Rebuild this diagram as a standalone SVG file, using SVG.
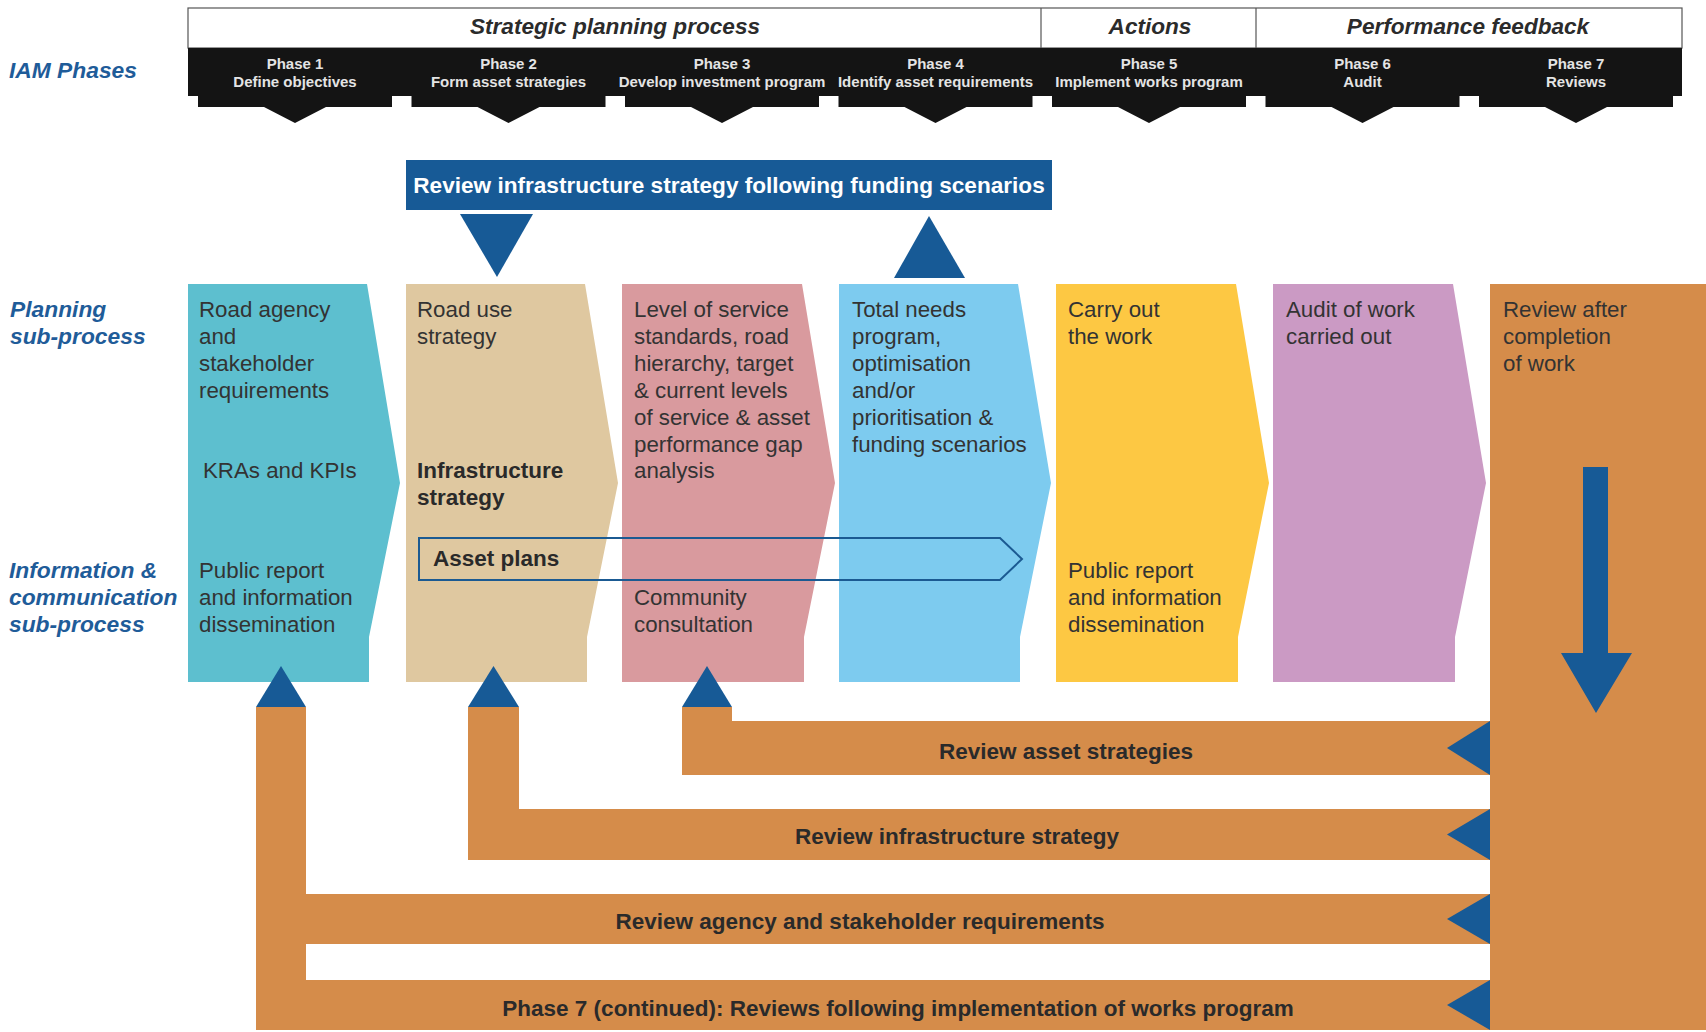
<svg xmlns="http://www.w3.org/2000/svg" width="1706" height="1032" viewBox="0 0 1706 1032">
<defs>
<style>
.hdr{font-family:"Liberation Sans",Arial,sans-serif;font-size:22.6px;font-style:italic;font-weight:bold;fill:#2b2b2b;text-anchor:middle}
.ph{font-family:"Liberation Sans",Arial,sans-serif;font-size:15px;font-weight:bold;fill:#e4e4e4;text-anchor:middle}
.lbl{font-family:"Liberation Sans",Arial,sans-serif;font-size:22.8px;font-style:italic;font-weight:bold;fill:#1f5c99}
.t{font-family:"Liberation Sans",Arial,sans-serif;font-size:22.3px;fill:#333}
.tb{font-family:"Liberation Sans",Arial,sans-serif;font-size:22.5px;font-weight:bold;fill:#2a2a2a}
.bar{font-family:"Liberation Sans",Arial,sans-serif;font-size:22.5px;font-weight:bold;fill:#2a2a2a;text-anchor:middle}
.rev{font-family:"Liberation Sans",Arial,sans-serif;font-size:22.6px;font-weight:bold;fill:#ffffff;text-anchor:middle}
.blue{fill:#175a96}
.org{fill:#d58c4a}
</style>
</defs>
<rect x="0" y="0" width="1706" height="1032" fill="#ffffff"/>

<!-- Header -->
<g id="header">
<rect x="188" y="8" width="1494" height="40" fill="#ffffff" stroke="#555" stroke-width="1.2"/>
<line x1="1041" y1="8" x2="1041" y2="48" stroke="#555" stroke-width="1.2"/>
<line x1="1256" y1="8" x2="1256" y2="48" stroke="#555" stroke-width="1.2"/>
<text class="hdr" x="615" y="34">Strategic planning process</text>
<text class="hdr" x="1150" y="34">Actions</text>
<text class="hdr" x="1468" y="34">Performance feedback</text>
</g>

<!-- Phase band -->
<g id="phases">
<rect x="188" y="48" width="1494" height="48" fill="#141414"/>
<path fill="#141414" d="M198,96H392V107H326L295,123L264,107H198Z"/>
<path fill="#141414" d="M411.5,96H605.5V107H539.5L508.5,123L477.5,107H411.5Z"/>
<path fill="#141414" d="M625,96H819V107H753L722,123L691,107H625Z"/>
<path fill="#141414" d="M838.5,96H1032.5V107H966.5L935.5,123L904.5,107H838.5Z"/>
<path fill="#141414" d="M1052,96H1246V107H1180L1149,123L1118,107H1052Z"/>
<path fill="#141414" d="M1265.5,96H1459.5V107H1393.5L1362.5,123L1331.5,107H1265.5Z"/>
<path fill="#141414" d="M1479,96H1673V107H1607L1576,123L1545,107H1479Z"/>
<text class="ph" x="295" y="69">Phase 1</text><text class="ph" x="295" y="87">Define objectives</text>
<text class="ph" x="508.5" y="69">Phase 2</text><text class="ph" x="508.5" y="87">Form asset strategies</text>
<text class="ph" x="722" y="69">Phase 3</text><text class="ph" x="722" y="87">Develop investment program</text>
<text class="ph" x="935.5" y="69">Phase 4</text><text class="ph" x="935.5" y="87">Identify asset requirements</text>
<text class="ph" x="1149" y="69">Phase 5</text><text class="ph" x="1149" y="87">Implement works program</text>
<text class="ph" x="1362.5" y="69">Phase 6</text><text class="ph" x="1362.5" y="87">Audit</text>
<text class="ph" x="1576" y="69">Phase 7</text><text class="ph" x="1576" y="87">Reviews</text>
</g>

<!-- Left labels -->
<g id="labels">
<text class="lbl" x="9" y="78">IAM Phases</text>
<text class="lbl" x="10" y="317">Planning</text>
<text class="lbl" x="10" y="344">sub-process</text>
<text class="lbl" x="9" y="578">Information &amp;</text>
<text class="lbl" x="9" y="605">communication</text>
<text class="lbl" x="9" y="632">sub-process</text>
</g>

<!-- Review box -->
<g id="review-funding">
<rect x="406" y="160" width="646" height="50" class="blue"/>
<text class="rev" x="729" y="193">Review infrastructure strategy following funding scenarios</text>
</g>

<!-- Columns -->
<g id="col1">
<path fill="#5dbfcf" d="M188,284H367L400,483L369,637V682H188Z"/>
<text class="t" x="199" y="317">Road agency</text>
<text class="t" x="199" y="344">and</text>
<text class="t" x="199" y="371">stakeholder</text>
<text class="t" x="199" y="398">requirements</text>
<text class="t" x="203" y="478">KRAs and KPIs</text>
<text class="t" x="199" y="578">Public report</text>
<text class="t" x="199" y="605">and information</text>
<text class="t" x="199" y="632">dissemination</text>
</g>
<g id="col2">
<path fill="#dfc8a0" d="M406,284H585L618,483L587,637V682H406Z"/>
<text class="t" x="417" y="317">Road use</text>
<text class="t" x="417" y="344">strategy</text>
<text class="tb" x="417" y="478">Infrastructure</text>
<text class="tb" x="417" y="505">strategy</text>
</g>
<g id="col3">
<path fill="#d99a9e" d="M622,284H802L835,483L804,637V682H622Z"/>
<text class="t" x="634" y="317">Level of service</text>
<text class="t" x="634" y="344">standards, road</text>
<text class="t" x="634" y="371">hierarchy, target</text>
<text class="t" x="634" y="398">&amp; current levels</text>
<text class="t" x="634" y="425">of service &amp; asset</text>
<text class="t" x="634" y="452">performance gap</text>
<text class="t" x="634" y="478">analysis</text>
<text class="t" x="634" y="605">Community</text>
<text class="t" x="634" y="632">consultation</text>
</g>
<g id="col4">
<path fill="#7dcbef" d="M839,284H1018L1051,483L1020,637V682H839Z"/>
<text class="t" x="852" y="317">Total needs</text>
<text class="t" x="852" y="344">program,</text>
<text class="t" x="852" y="371">optimisation</text>
<text class="t" x="852" y="398">and/or</text>
<text class="t" x="852" y="425">prioritisation &amp;</text>
<text class="t" x="852" y="452">funding scenarios</text>
</g>
<g id="col5">
<path fill="#fdc843" d="M1056,284H1236L1269,483L1238,637V682H1056Z"/>
<text class="t" x="1068" y="317">Carry out</text>
<text class="t" x="1068" y="344">the work</text>
<text class="t" x="1068" y="578">Public report</text>
<text class="t" x="1068" y="605">and information</text>
<text class="t" x="1068" y="632">dissemination</text>
</g>
<g id="col6">
<path fill="#cb9ac4" d="M1273,284H1453L1486,483L1455,637V682H1273Z"/>
<text class="t" x="1286" y="317">Audit of work</text>
<text class="t" x="1286" y="344">carried out</text>
</g>
<g id="col7">
<rect x="1490" y="284" width="216" height="746" class="org"/>
<text class="t" x="1503" y="317">Review after</text>
<text class="t" x="1503" y="344">completion</text>
<text class="t" x="1503" y="371">of work</text>
</g>

<!-- Asset plans -->
<g id="asset-plans">
<path d="M419,538H1000L1022,559L1000,580H419Z" fill="none" stroke="#1b5a92" stroke-width="2"/>
<text class="tb" x="433" y="566">Asset plans</text>
</g>

<!-- Feedback bars -->
<g id="feedback-bars">
<path class="org" d="M256,707H306V894H1490V944H306V980H1490V1030H256Z"/>
<path class="org" d="M468,707H519V809H1490V860H468Z"/>
<path class="org" d="M682,707H732V721H1490V775H682Z"/>
<text class="bar" x="1066" y="759">Review asset strategies</text>
<text class="bar" x="957" y="844">Review infrastructure strategy</text>
<text class="bar" x="860" y="929">Review agency and stakeholder requirements</text>
<text class="bar" x="898" y="1016">Phase 7 (continued): Reviews following implementation of works program</text>
</g>

<!-- Connectors / arrowheads -->
<g id="connectors">
<polygon class="blue" points="460,214 533,214 497,277"/>
<polygon class="blue" points="894,278 965,278 929,216"/>
<polygon class="blue" points="256,707 306,707 281,666"/>
<polygon class="blue" points="468,707 519,707 493.5,666"/>
<polygon class="blue" points="682,707 732,707 707,666"/>
<polygon class="blue" points="1490,721 1490,775 1447,748"/>
<polygon class="blue" points="1490,809 1490,860 1447,834.5"/>
<polygon class="blue" points="1490,894 1490,944 1447,919"/>
<polygon class="blue" points="1490,980 1490,1030 1447,1005"/>
<path class="blue" d="M1583,467H1608V653H1632L1596,713L1561,653H1583Z"/>
</g>
</svg>
